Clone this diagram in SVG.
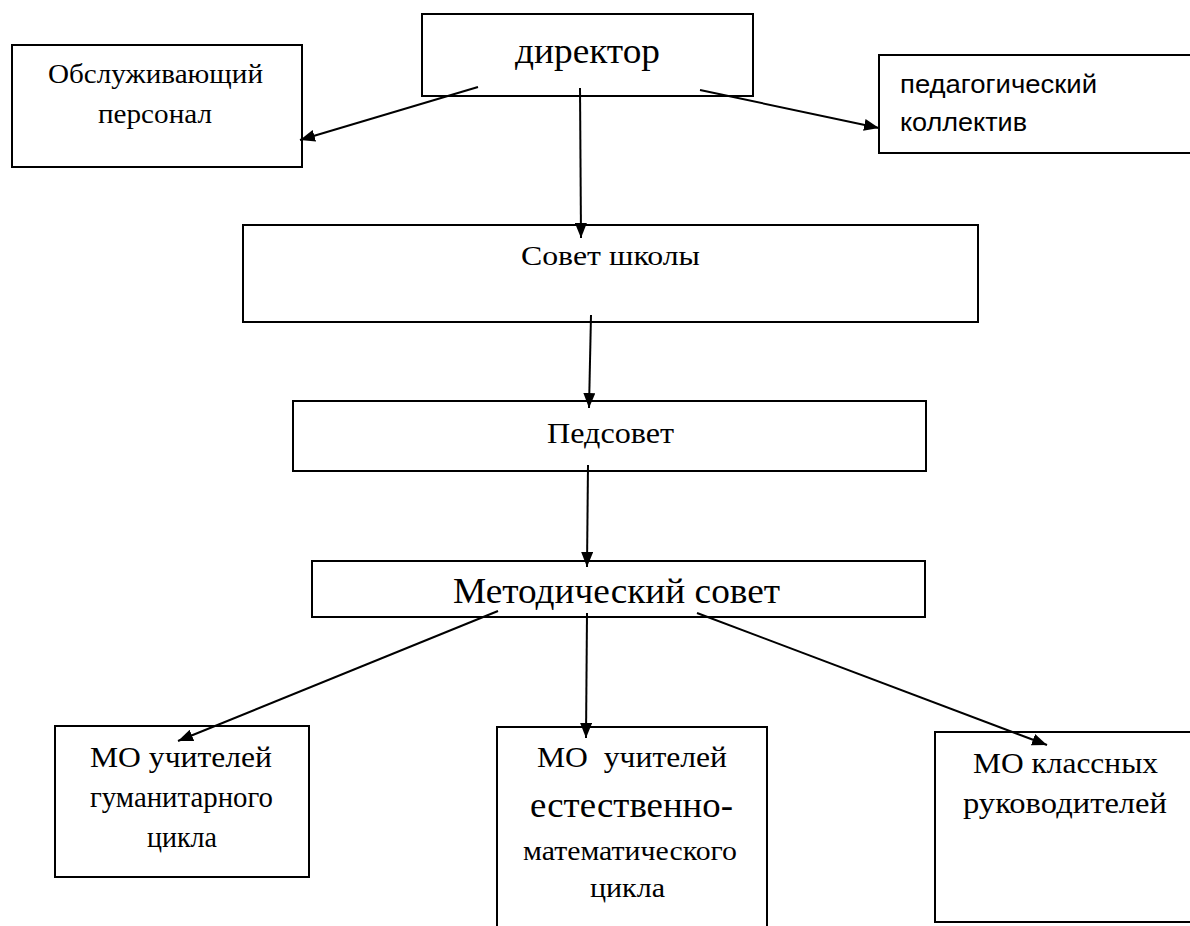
<svg xmlns="http://www.w3.org/2000/svg" width="1190" height="926" viewBox="0 0 1190 926">
<style>
.box{fill:#fff;stroke:#000;stroke-width:2}
.t{font-family:"Liberation Serif","Times New Roman",serif;fill:#000}
.s{font-family:"Liberation Sans",Arial,sans-serif;fill:#000}
.c{stroke:#000;stroke-width:2;fill:none}
</style>
<defs>
<marker id="ah" markerUnits="userSpaceOnUse" markerWidth="16" markerHeight="12" refX="15" refY="6" orient="auto">
<path d="M0,0 L15,6 L0,12 z" fill="#000"/>
</marker>
</defs>
<rect width="1190" height="926" fill="#fff"/>
<g id="director">
<rect class="box" x="422" y="14" width="331" height="82"/>
<text class="t" x="515" y="63" font-size="36" textLength="145" lengthAdjust="spacingAndGlyphs">директор</text>
</g>
<g id="staff">
<rect class="box" x="12" y="45" width="290" height="122"/>
<text class="t" x="48" y="83" font-size="27" textLength="215" lengthAdjust="spacingAndGlyphs">Обслуживающий</text>
<text class="t" x="98" y="123" font-size="27" textLength="114" lengthAdjust="spacingAndGlyphs">персонал</text>
</g>
<g id="teachers">
<rect class="box" x="879" y="55" width="330" height="98"/>
<text class="s" x="900" y="93" font-size="26" textLength="197" lengthAdjust="spacingAndGlyphs">педагогический</text>
<text class="s" x="900" y="131" font-size="26" textLength="127" lengthAdjust="spacingAndGlyphs">коллектив</text>
</g>
<g id="school-council">
<rect class="box" x="243" y="225" width="735" height="97"/>
<text class="t" x="521" y="265" font-size="28" textLength="179" lengthAdjust="spacingAndGlyphs">Совет школы</text>
</g>
<g id="pedsovet">
<rect class="box" x="293" y="401" width="633" height="70"/>
<text class="t" x="547" y="443" font-size="30" textLength="127" lengthAdjust="spacingAndGlyphs">Педсовет</text>
</g>
<g id="method-council">
<rect class="box" x="312" y="561" width="613" height="56"/>
<text class="t" x="453" y="603" font-size="35" textLength="327" lengthAdjust="spacingAndGlyphs">Методический совет</text>
</g>
<g id="mo-humanities">
<rect class="box" x="55" y="726" width="254" height="151"/>
<text class="t" x="90" y="767" font-size="29" textLength="182" lengthAdjust="spacingAndGlyphs">МО учителей</text>
<text class="t" x="90" y="807" font-size="29" textLength="183" lengthAdjust="spacingAndGlyphs">гуманитарного</text>
<text class="t" x="147" y="847" font-size="29" textLength="70" lengthAdjust="spacingAndGlyphs">цикла</text>
</g>
<g id="mo-science">
<rect class="box" x="497" y="727" width="270" height="210"/>
<text class="t" x="537" y="767" font-size="29" textLength="190" lengthAdjust="spacingAndGlyphs" xml:space="preserve">МО  учителей</text>
<text class="t" x="530" y="817" font-size="36" textLength="203" lengthAdjust="spacingAndGlyphs">естественно-</text>
<text class="t" x="523" y="860" font-size="27" textLength="214" lengthAdjust="spacingAndGlyphs">математического</text>
<text class="t" x="590" y="897" font-size="27" textLength="75" lengthAdjust="spacingAndGlyphs">цикла</text>
</g>
<g id="mo-class">
<rect class="box" x="935" y="732" width="270" height="190"/>
<text class="t" x="973" y="773" font-size="29" textLength="185" lengthAdjust="spacingAndGlyphs">МО классных</text>
<text class="t" x="963" y="813" font-size="29" textLength="204" lengthAdjust="spacingAndGlyphs">руководителей</text>
</g>
<g id="connectors">
<line class="c" x1="478" y1="87" x2="300" y2="140" marker-end="url(#ah)"/>
<line class="c" x1="700" y1="90" x2="879" y2="128" marker-end="url(#ah)"/>
<line class="c" x1="580" y1="88" x2="581" y2="238" marker-end="url(#ah)"/>
<line class="c" x1="591" y1="315" x2="589" y2="408" marker-end="url(#ah)"/>
<line class="c" x1="588" y1="465" x2="587" y2="567" marker-end="url(#ah)"/>
<line class="c" x1="498" y1="611" x2="178" y2="741" marker-end="url(#ah)"/>
<line class="c" x1="587" y1="613" x2="586" y2="738" marker-end="url(#ah)"/>
<line class="c" x1="697" y1="613" x2="1047" y2="745" marker-end="url(#ah)"/>
</g>
</svg>
